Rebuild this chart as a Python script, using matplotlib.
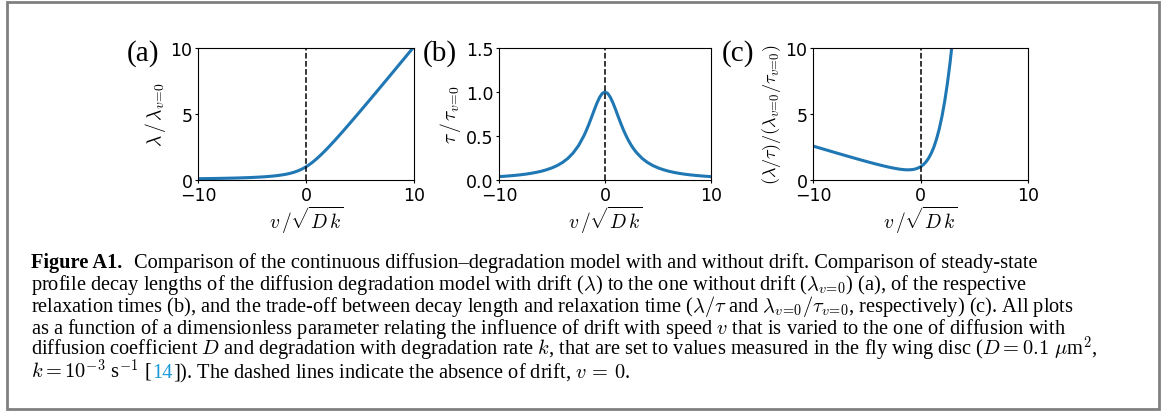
import matplotlib
matplotlib.use("Agg")
import matplotlib.pyplot as plt
from matplotlib.patches import Rectangle

# dimensionless drift parameter v/sqrt(Dk)
drift = [-10, -9.5, -9, -8.5, -8, -7.5, -7, -6.5, -6, -5.5, -5, -4.5, -4, -3.5, -3, -2.5,
         -2, -1.75, -1.5, -1.25, -1, -0.75, -0.5, -0.25, 0, 0.25, 0.5, 0.75, 1, 1.25, 1.5,
         1.75, 2, 2.25, 2.5, 2.75, 3, 3.5, 4, 4.5, 5, 5.5, 6, 6.5, 7, 7.5, 8, 8.5, 9, 9.5, 10]

# (a) decay length ratio
decay_ratio = [0.099, 0.104, 0.110, 0.116, 0.123, 0.131, 0.140, 0.150, 0.162, 0.176, 0.193,
               0.212, 0.236, 0.266, 0.303, 0.351, 0.414, 0.454, 0.500, 0.554, 0.618, 0.693,
               0.781, 0.883, 1.000, 1.133, 1.281, 1.443, 1.618, 1.804, 2.000, 2.204, 2.414,
               2.630, 2.851, 3.075, 3.303, 3.766, 4.236, 4.712, 5.193, 5.676, 6.162, 6.650,
               7.140, 7.631, 8.123, 8.616, 9.110, 9.604, 10.099]

# (b) relaxation time ratio
relax_ratio = [0.0385, 0.0424, 0.0471, 0.0525, 0.0588, 0.0664, 0.0755, 0.0865, 0.100, 0.117,
               0.138, 0.165, 0.200, 0.246, 0.308, 0.390, 0.500, 0.566, 0.640, 0.719, 0.800,
               0.877, 0.941, 0.985, 1.000, 0.985, 0.941, 0.877, 0.800, 0.719, 0.640, 0.566,
               0.500, 0.441, 0.390, 0.346, 0.308, 0.246, 0.200, 0.165, 0.138, 0.117, 0.100,
               0.0865, 0.0755, 0.0664, 0.0588, 0.0525, 0.0471, 0.0424, 0.0385]

# (c) trade-off ratio
tradeoff_ratio = [2.574, 2.453, 2.333, 2.213, 2.093, 1.974, 1.856, 1.739, 1.623, 1.508, 1.396,
                  1.286, 1.180, 1.079, 0.984, 0.899, 0.828, 0.801, 0.781, 0.771, 0.773, 0.791,
                  0.830, 0.897, 1.000, 1.151, 1.361, 1.646, 2.023, 2.509, 3.125, 3.891, 4.828,
                  5.959, 7.305, 8.889, 10.73, 15.30, 21.18, 28.57, 37.65, 48.60, 61.62, 76.89,
                  94.61, 114.9, 138.1, 164.2, 193.6, 226.3, 262.6]

panel_labels = ["(a)", "(b)", "(c)"]
ylabels = [r"$\lambda\,/\,\lambda_{v\!=\!0}$", r"$\tau\,/\,\tau_{v\!=\!0}$",
           r"$(\lambda/\tau)/(\lambda_{v\!=\!0}/\tau_{v\!=\!0})$"]
ylabel_sizes = [14, 14, 13]
yticks = [[0, 5, 10], [0.0, 0.5, 1.0, 1.5], [0, 5, 10]]
yticklabels = [["0", "5", "10"], ["0.0", "0.5", "1.0", "1.5"], ["0", "5", "10"]]
xticks = [-10, 0, 10]

W, H = 1163, 414
plt.rcParams['mathtext.fontset'] = 'cm'
fig = plt.figure(figsize=(W / 100, H / 100), dpi=100)

# frame around figure
fig.patches.append(Rectangle((7 / W, 4 / H), 1152 / W, 407 / H, transform=fig.transFigure,
                             fill=False, edgecolor='#808080', linewidth=2.0))

axes_px = [(198, 216), (499, 212), (813, 215)]
label_x = [127, 423, 722]
series = [decay_ratio, relax_ratio, tradeoff_ratio]
for i, (left, width) in enumerate(axes_px):
    ax = fig.add_axes([left / W, (H - 181) / H, width / W, 132 / H])
    ax.plot(drift, series[i], color='#1f77b4', linewidth=2.2)
    ax.axvline(0, color='k', linestyle='--', linewidth=1.1)
    ax.set_xlim(-10, 10)
    ax.set_ylim(yticks[i][0], yticks[i][-1])
    ax.set_xticks(xticks)
    ax.set_xticklabels(["\u221210", "0", "10"])
    ax.set_yticks(yticks[i])
    ax.set_yticklabels(yticklabels[i])
    ax.tick_params(labelsize=12.5, length=2, pad=2)
    ax.set_xlabel(r"$v\,/\sqrt{D\,k}$", fontsize=14, labelpad=0)
    ax.set_ylabel(ylabels[i], fontsize=ylabel_sizes[i], labelpad=2)
    fig.text(label_x[i] / W, (H - 54) / H, panel_labels[i], fontsize=21,
             family='Liberation Serif', va='center', ha='left')

# caption
renderer = fig.canvas.get_renderer()
cap_size = 14.7
blue = '#1a9ad6'


def draw_pieces(y_px, pieces, x_px=31):
    x = x_px
    for txt, kw in pieces:
        gap = kw.pop('gap', 0)
        t = fig.text(x / W, (H - y_px) / H, txt, fontsize=cap_size, family='Liberation Serif',
                     va='baseline', ha='left', **kw)
        bb = t.get_window_extent(renderer)
        x = bb.x1 + gap


draw_pieces(268, [("Figure A1.", {'weight': 'bold', 'gap': 12}),
                  ("Comparison of the continuous diffusion\u2013degradation model with and without drift. "
                   "Comparison of steady-state", {})])
draw_pieces(290, [(r"profile decay lengths of the diffusion degradation model with drift ($\lambda$) "
                   r"to the one without drift ($\lambda_{v\!=\!0}$) (a), of the respective", {})])
draw_pieces(312, [(r"relaxation times (b), and the trade-off between decay length and relaxation time "
                   r"($\lambda/\tau$ and $\lambda_{v\!=\!0}/\tau_{v\!=\!0}$, respectively) (c). All plots", {})])
draw_pieces(334, [(r"as a function of a dimensionless parameter relating the influence of drift with "
                   r"speed $v$ that is varied to the one of diffusion with", {})])
draw_pieces(356, [(r"diffusion coefficient $D$ and degradation with degradation rate $k$, that are set "
                   r"to values measured in the fly wing disc ($D = 0.1\ \mu$m$^2$,", {})])
draw_pieces(378, [(r"$k = 10^{-3}$ s$^{-1}$ [", {}), ("14", {'color': blue}),
                  (r"]). The dashed lines indicate the absence of drift, $v\,=\,0$.", {})])

fig.savefig("out.png", dpi=100)
